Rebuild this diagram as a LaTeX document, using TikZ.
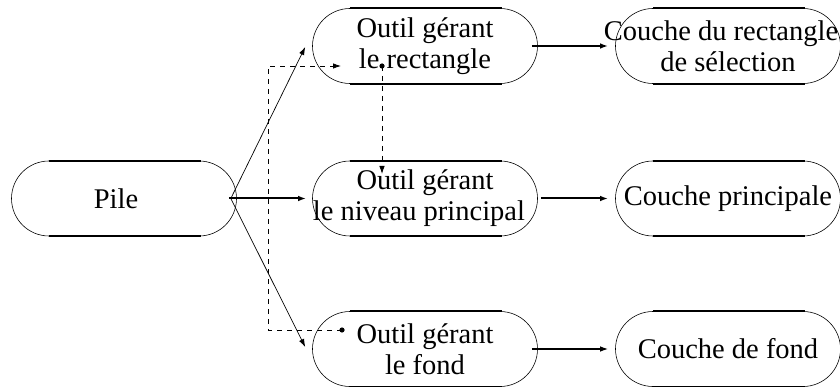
\documentclass[tikz,border=0pt]{standalone}
\usepackage{fontspec}
\setmainfont{Liberation Serif}
\usetikzlibrary{shapes.misc,arrows.meta,calc}
\newcommand\shiftl[2]{\makebox[0pt]{\hspace*{-#1}#2}}
\begin{document}
\begin{tikzpicture}[x=1pt,y=-1pt,
  box/.style={rounded rectangle, draw, line width=0.6pt, minimum width=225pt,
    minimum height=75pt, inner sep=0pt, align=center,
    font=\fontsize{28.5}{31}\selectfont},
  edge/.style={line width=2.2pt},
  tip/.style={-{Latex[length=8pt,width=5.5pt]}},
  thinarrow/.style={tip, line width=0.7pt},
  thickarrow/.style={tip, line width=2pt},
  midarrow/.style={tip, line width=1.3pt},
  dasharrow/.style={tip, line width=0.8pt, dash pattern=on 5pt off 5pt}
]
\useasboundingbox (0,0) rectangle (840,387);
\node[box] (pile) at (124,198.5) {\shiftl{16pt}{Pile}};
\node[box] (o1) at (425,46) {Outil gérant\\le rectangle};
\node[box] (o2) at (425,198.5) {Outil gérant\\\shiftl{12pt}{le niveau principal}};
\node[box] (o3) at (425,349) {Outil gérant\\le fond};
\node[box] (c1) at (728,46) {\shiftl{14pt}{Couche du rectangle}\\de sélection};
\node[box] (c2) at (728,198.5) {Couche principale};
\node[box] (c3) at (728,349) {Couche de fond};
\foreach \n in {pile,o1,o2,o3,c1,c2,c3}{
  \draw[edge] ($(\n.north)+(-75,0)$) -- ($(\n.north)+(77,0)$);
  \draw[edge] ($(\n.south)+(-75,0)$) -- ($(\n.south)+(77,0)$);
}
% arrows from Pile
\draw[thinarrow] ([xshift=-6pt]pile.east) -- ([xshift=-7pt,yshift=-1pt]o1.west);
\draw[thickarrow] ([xshift=-8pt]pile.east) -- ([xshift=-6pt]o2.west);
\draw[thinarrow] ([xshift=-6pt]pile.east) -- ([xshift=-7pt,yshift=2pt]o3.west);
% arrows to layers
\draw[thickarrow] ([xshift=-6pt]o1.east) -- ([xshift=-7pt]c1.west);
\draw[thickarrow] ([xshift=3pt]o2.east) -- ([xshift=-7pt]c2.west);
\draw[midarrow] ([xshift=-6pt]o3.east) -- ([xshift=-7pt]c3.west);
% dashed links
\coordinate (d1) at (382,66);
\coordinate (d2) at (342,330);
\coordinate (e1) at (382,174);
\coordinate (e2) at (341,66);
\coordinate (k) at (268,0);
\fill (d1) circle (2.6pt);
\fill (d2) circle (2.6pt);
\draw[dasharrow] (d1) -- (e1);
\draw[dasharrow] (d2) -| (k |- e2) -- (e2);
\end{tikzpicture}
\end{document}
